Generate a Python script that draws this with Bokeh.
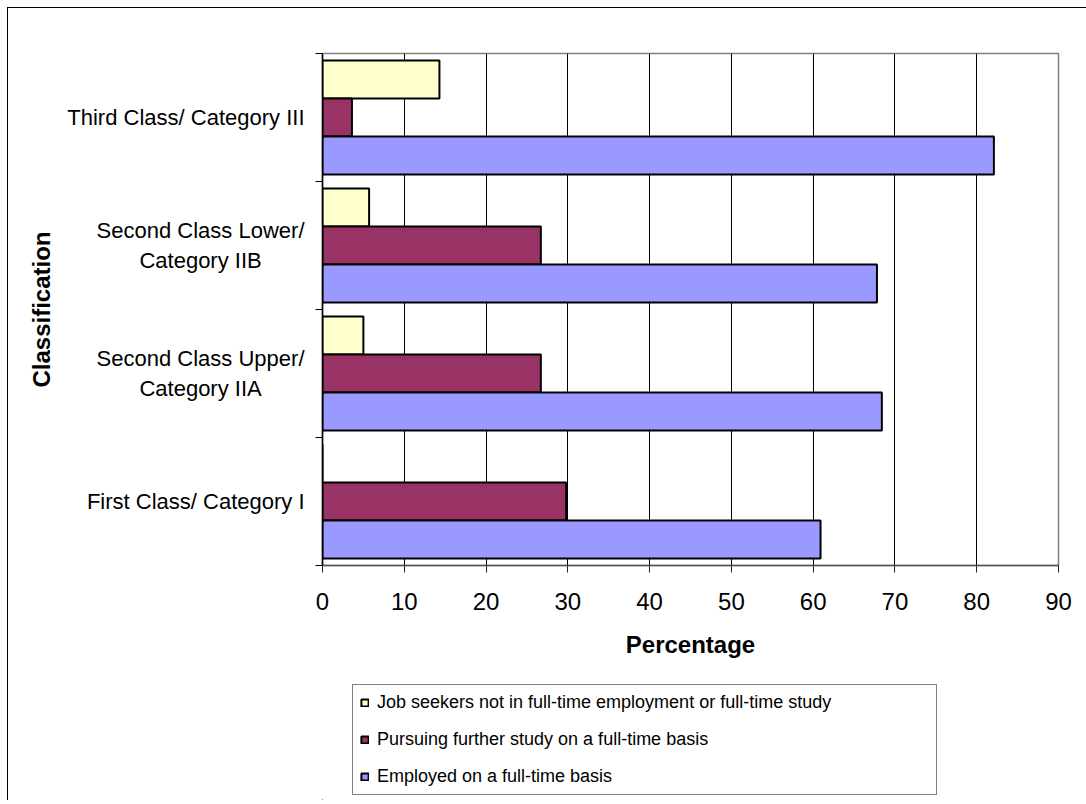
from bokeh.plotting import figure
from bokeh.layouts import column
from bokeh.models import (FixedTicker, Legend, LegendItem,
                          ColumnDataSource, Range1d)
from bokeh.embed import file_html
from bokeh.resources import INLINE

# ---- data ----
NB = "\u00a0" * 7  # centres the second line of a two-line category label
categories = ["First Class/ Category I",
              "Second Class Upper/\nCategory IIA" + NB,
              "Second Class Lower/\nCategory IIB" + NB,
              "Third Class/ Category III"]
job_seekers = [0.0, 5.0, 5.7, 14.3]
further_study = [29.8, 26.7, 26.7, 3.6]
employed = [60.9, 68.4, 67.8, 82.1]
series_names = ["Job seekers not in full-time employment or full-time study",
                "Pursuing further study on a full-time basis",
                "Employed on a full-time basis"]
x_ticks = [0, 10, 20, 30, 40, 50, 60, 70, 80, 90]

# ---- style ----
colors = ["#FFFFCC", "#993366", "#9999FF"]
bar_h = 0.297
offsets = [bar_h, 0.0, -bar_h]
FONT = "Liberation Sans"

centers = [i + 0.5 for i in range(len(categories))]
bounds = [float(i) for i in range(len(categories) + 1)]

p = figure(width=1078, height=667, output_backend="svg", toolbar_location=None,
           x_range=Range1d(0, 90), y_range=Range1d(0, len(categories)),
           min_border_left=314, min_border_right=28, min_border_top=45,
           min_border_bottom=110)
p.background_fill_color = "white"
p.border_fill_color = "white"
p.outline_line_color = "#808080"
p.outline_line_width = 1.5

renderers = []
for vals, col, off in zip([job_seekers, further_study, employed], colors, offsets):
    src = ColumnDataSource(dict(y=[c + off for c in centers], right=vals))
    r = p.hbar(y="y", right="right", left=0, height=bar_h, source=src,
               fill_color=col, line_color="black", line_width=2)
    renderers.append(r)

# x axis
p.xaxis.ticker = FixedTicker(ticks=x_ticks)
p.xaxis.axis_label = "Percentage"
p.xaxis.axis_label_text_font = FONT
p.xaxis.axis_label_text_font_size = "24px"
p.xaxis.axis_label_text_font_style = "bold"
p.xaxis.axis_label_text_color = "black"
p.xaxis.axis_label_standoff = 18
p.xaxis.major_label_text_font = FONT
p.xaxis.major_label_text_font_size = "24px"
p.xaxis.major_label_text_color = "black"
p.xaxis.major_label_standoff = 20
p.xaxis.major_tick_out = 7
p.xaxis.major_tick_in = 0
p.xaxis.minor_tick_out = 0
p.xaxis.minor_tick_in = 0
p.xaxis.axis_line_color = "#555555"
p.xaxis.axis_line_width = 1.5
p.xaxis.major_tick_line_color = "#222222"

# y axis: labels at band centers, tick marks at band boundaries
p.yaxis.ticker = FixedTicker(ticks=centers, minor_ticks=bounds)
p.yaxis.major_label_overrides = {c: lab for c, lab in zip(centers, categories)}
p.yaxis.major_label_text_font = FONT
p.yaxis.major_label_text_font_size = "22px"
p.yaxis.major_label_text_color = "black"
p.yaxis.major_label_standoff = 11
p.yaxis.major_tick_out = 0
p.yaxis.major_tick_in = 0
p.yaxis.minor_tick_out = 7
p.yaxis.minor_tick_in = 0
p.yaxis.minor_tick_line_color = "black"
p.yaxis.axis_line_color = "black"
p.yaxis.axis_line_width = 1.5
p.yaxis.axis_label = "Classification"
p.yaxis.axis_label_text_font = FONT
p.yaxis.axis_label_text_font_size = "24px"
p.yaxis.axis_label_text_font_style = "bold"
p.yaxis.axis_label_text_color = "black"
p.yaxis.axis_label_standoff = 9

p.ygrid.visible = False
p.xgrid.ticker = FixedTicker(ticks=x_ticks)
p.xgrid.grid_line_color = "black"
p.xgrid.grid_line_width = 1

# legend panel below the chart (its frame is aligned with the chart's frame)
pl = figure(width=1078, height=125, output_backend="svg", toolbar_location=None,
            x_range=Range1d(0, 1), y_range=Range1d(0, 1),
            x_axis_type=None, y_axis_type=None, min_border=0)
pl.grid.visible = False
pl.outline_line_color = None
pl.background_fill_color = "white"
pl.border_fill_color = "white"
# legend swatches only: one-row glyphs placed well outside the visible range
proxies = [pl.hbar(y=[-50], right=[-40], left=[-45], height=1, fill_color=col,
                   line_color="black", line_width=2) for col in colors]

legend = Legend(items=[LegendItem(label=n, renderers=[r])
                       for n, r in zip(series_names, proxies)],
                location=(30, 5), orientation="vertical",
                padding=7, margin=0, spacing=16, label_height=21,
                label_width=552,
                glyph_width=9, glyph_height=9, label_standoff=8,
                label_text_font=FONT, label_text_font_size="18px",
                label_text_color="black",
                border_line_color="black", border_line_width=1,
                background_fill_color="white")
pl.add_layout(legend)

layout = column(p, pl, spacing=0, margin=(7, 0, 0, 7),
                styles={"border-top": "1px solid black",
                        "border-left": "1px solid black"})

open("out.html", "w").write(file_html(layout, INLINE))
